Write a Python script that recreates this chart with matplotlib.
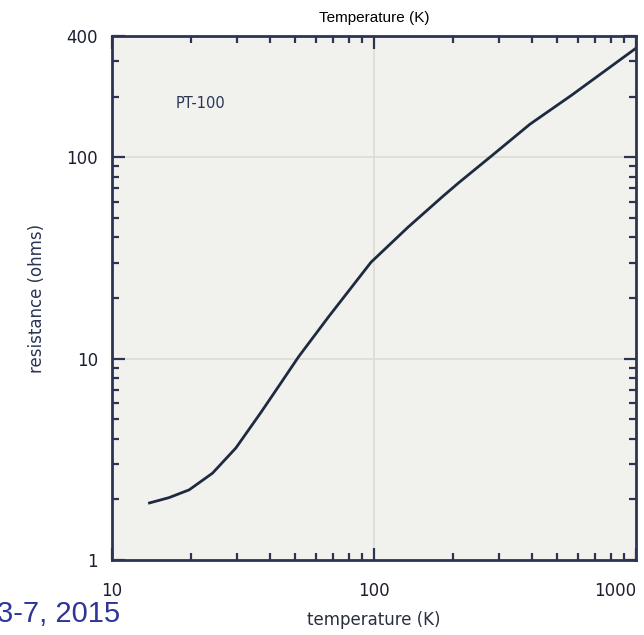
import matplotlib
matplotlib.use("Agg")
import matplotlib.pyplot as plt
from matplotlib.ticker import LogLocator, NullFormatter, FixedLocator, FixedFormatter

# values (PT-100)
temperature = [13.9, 16.5, 19.7, 24.2, 29.7, 37.0, 43.3, 51.5, 67.0, 97.4,
               135, 183, 210, 277, 394, 567, 1000]
resistance = [1.92, 2.04, 2.23, 2.70, 3.60, 5.40, 7.30, 10.2, 16.1, 30.1,
              45.0, 63.9, 74.5, 100, 146, 203, 348]

x_ticks = [10, 100, 1000]
x_labels = ["10", "100", "1000"]
y_ticks = [1, 10, 100, 400]
y_labels = ["1", "10", "100", "400"]

navy = "#2b3553"
line_col = "#1e2a40"

fig = plt.figure(figsize=(6.44, 6.35), dpi=100)
ax = fig.add_axes([112/644, 1-560/635, (636-112)/644, (560-36)/635])
ax.set_facecolor("#f1f1ee")

ax.plot(temperature, resistance, color=line_col, lw=2.0)
ax.set_xscale("log")
ax.set_yscale("log")
ax.set_xlim(10, 1000)
ax.set_ylim(1, 400)

ax.xaxis.set_major_locator(FixedLocator(x_ticks))
ax.xaxis.set_major_formatter(FixedFormatter(x_labels))
ax.xaxis.set_minor_locator(LogLocator(base=10, subs=range(2, 10)))
ax.xaxis.set_minor_formatter(NullFormatter())
ax.yaxis.set_major_locator(FixedLocator(y_ticks))
ax.yaxis.set_major_formatter(FixedFormatter(y_labels))
ax.yaxis.set_minor_locator(LogLocator(base=10, subs=range(2, 10)))
ax.yaxis.set_minor_formatter(NullFormatter())

ax.tick_params(which="both", direction="in", top=True, right=True,
               color=navy, width=1.6, labelsize=12, labelcolor="#1c1f2e")
ax.tick_params(which="major", length=9)
ax.tick_params(which="minor", length=5)
ax.tick_params(axis="x", which="major", pad=16)
ax.tick_params(axis="y", which="major", pad=10)

# only the 10, 100 gridlines show
ax.axvline(100, color="#dcdcd2", lw=1.2, zorder=0)
for v in [10, 100]:
    ax.axhline(v, color="#dcdcd2", lw=1.2, zorder=0)

for s in ax.spines.values():
    s.set_color(navy)
    s.set_linewidth(2.0)

# keep the 1000 label inside the canvas
ax.get_xticklabels()[-1].set_horizontalalignment("right")

ax.set_xlabel("temperature (K)", fontsize=12, color="#2a2f40", labelpad=8)
ax.set_ylabel("resistance (ohms)", fontsize=12, color=navy, labelpad=15)

ax.text(0.168, 0.872, "PT-100", transform=ax.transAxes, fontsize=10.5,
        color=navy, ha="center", va="center")

fig.text(374/644, 1-18/635, "Temperature (K)", fontsize=11, family="Liberation Sans",
         color="black", ha="center", va="center")
fig.text(-0.005, 1-614/635, "3-7, 2015", fontsize=21, family="Liberation Sans",
         color="#2e3596", ha="left", va="center")

fig.savefig("out.png", dpi=100)
